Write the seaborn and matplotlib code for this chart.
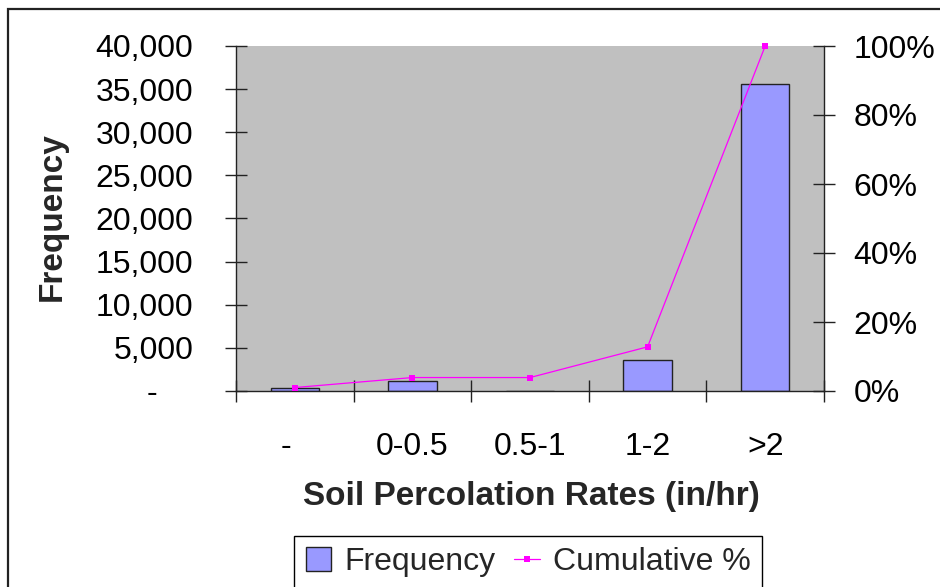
import numpy as np
import pandas as pd
import matplotlib
matplotlib.use("Agg")
import matplotlib.pyplot as plt
import seaborn as sns
from matplotlib.patches import Patch, Rectangle
from matplotlib.lines import Line2D
from matplotlib.ticker import FuncFormatter, FixedLocator

# Histogram of soil percolation rates with cumulative percentage
categories = ["-", "0-0.5", "0.5-1", "1-2", ">2"]
frequency = [400, 1200, 0, 3600, 35600]
cumulative_pct = [1.0, 3.9, 3.9, 12.8, 100.0]

freq_ticks = [0, 5000, 10000, 15000, 20000, 25000, 30000, 35000, 40000]
pct_ticks = [0, 20, 40, 60, 80, 100]

sns.set_style("white")
plt.rcParams["font.family"] = ["Liberation Sans", "DejaVu Sans"]

W, H = 940, 587
fig = plt.figure(figsize=(W / 100, H / 100), dpi=100)
fig.patch.set_facecolor("white")

# plot area in pixel coordinates
left, right, top, bottom = 236, 824, 46, 391
ax = fig.add_axes([left / W, 1 - bottom / H, (right - left) / W, (bottom - top) / H])
ax.set_facecolor("#C0C0C0")

df = pd.DataFrame({"category": categories, "frequency": frequency,
                   "cumulative": cumulative_pct, "pos": np.arange(len(categories))})

sns.barplot(data=df, x="category", y="frequency", ax=ax, color="#9999FF",
            saturation=1, width=0.41, edgecolor="#222222", linewidth=1.0)
ax.set_xlim(-0.5, len(categories) - 0.5)
ax.set_ylim(0, 40000)
ax.set_xlabel("")
ax.set_ylabel("")

ax2 = ax.twinx()
sns.lineplot(data=df, x="pos", y="cumulative", ax=ax2, color="#FF00FF",
             linewidth=0.9, marker="s", markersize=5, markeredgewidth=0,
             markerfacecolor="#FF00FF")
for ln in ax2.lines:
    ln.set_clip_on(False)
ax2.set_ylim(0, 100)
ax2.set_xlim(-0.5, len(categories) - 0.5)
ax2.set_xlabel("")
ax2.set_ylabel("")
ax2.patch.set_visible(False)

# left axis: frequency, accounting-style dash for zero
ax.yaxis.set_major_locator(FixedLocator(freq_ticks))
ax.yaxis.set_major_formatter(FuncFormatter(lambda v, p: "-    " if v == 0 else f"{int(v):,}"))
ax.tick_params(axis="y", left=True, direction="inout", length=16.5, width=1,
               color="#222222", labelsize=23, labelcolor="black", pad=22.5)

# bottom axis: tick marks between categories, labels at centres
ax.xaxis.set_major_locator(FixedLocator(np.arange(len(categories))))
ax.set_xticklabels([c + "  " if c == "-" else c for c in categories])
ax.xaxis.set_minor_locator(FixedLocator(np.arange(-0.5, len(categories), 1.0)))
ax.tick_params(axis="x", which="major", bottom=True, length=0, labelsize=23,
               labelcolor="black", pad=29.5)
ax.tick_params(axis="x", which="minor", bottom=True, direction="inout",
               length=16.5, width=1, color="#222222")

# right axis: cumulative percentage
ax2.yaxis.set_major_locator(FixedLocator(pct_ticks))
ax2.yaxis.set_major_formatter(FuncFormatter(lambda v, p: f"{int(v)}%"))
ax2.tick_params(axis="y", right=True, direction="inout", length=16.5, width=1,
                color="#222222", labelsize=23, labelcolor="black", pad=13)

for a in (ax, ax2):
    a.spines["top"].set_visible(False)
    for s in ("left", "right", "bottom"):
        a.spines[s].set_color("#222222")
        a.spines[s].set_linewidth(1.0)
ax.spines["right"].set_visible(False)
ax2.spines["left"].set_visible(False)
ax2.spines["bottom"].set_visible(False)

# axis titles
fig.text(52 / W, 1 - 217 / H, "Frequency", rotation=90, ha="center", va="center",
         fontsize=24, fontweight="bold")
fig.text(531 / W, 1 - 497 / H, "Soil Percolation Rates (in/hr)", ha="center",
         va="center", fontsize=24, fontweight="bold")

# legend
handles = [Patch(facecolor="#9999FF", edgecolor="#222222", linewidth=1.0),
           Line2D([], [], color="#FF00FF", linewidth=0.9, marker="s",
                  markersize=4, markeredgewidth=0)]
leg = fig.legend(handles, ["Frequency", "Cumulative %"], loc="center",
                 bbox_to_anchor=(528 / W, 1 - 562 / H), ncol=2, fontsize=23,
                 frameon=True, fancybox=False, shadow=False, framealpha=1,
                 edgecolor="black", handlelength=0.8, handleheight=0.75,
                 handletextpad=0.4, columnspacing=0.6, borderpad=0.35,
                 borderaxespad=0)
leg.get_frame().set_linewidth(1.0)

# chart border
fig.add_artist(Rectangle((8 / W, -0.1), 1.2, 1.1 - 9 / H, transform=fig.transFigure,
                         fill=False, edgecolor="#222222", linewidth=1.6))

fig.savefig("out.png", dpi=100, facecolor="white")
